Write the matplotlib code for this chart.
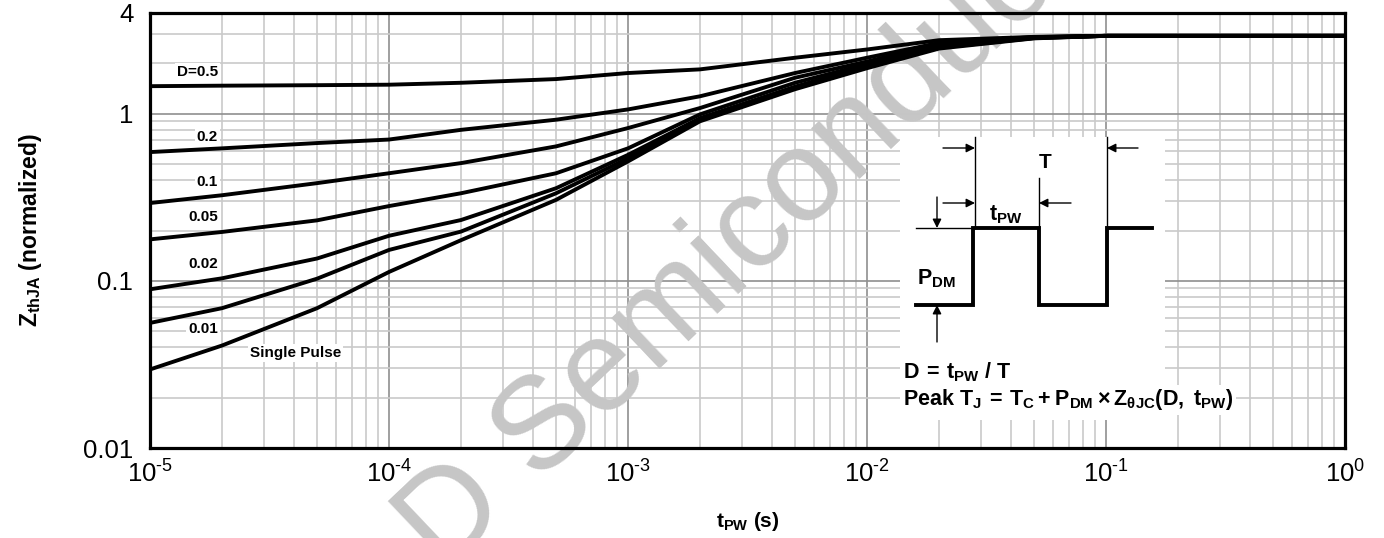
import numpy as np
import matplotlib
matplotlib.use("Agg")
import matplotlib.pyplot as plt
from matplotlib.patches import Rectangle

plt.rcParams['font.family'] = ['Liberation Sans', 'DejaVu Sans']
plt.rcParams['mathtext.fontset'] = 'custom'
plt.rcParams['mathtext.rm'] = 'Liberation Sans'
plt.rcParams['mathtext.bf'] = 'Liberation Sans:bold'
plt.rcParams['mathtext.it'] = 'Liberation Sans:italic'
plt.rcParams['axes.unicode_minus'] = False

# pulse width (s)
t_pw = [1e-5, 2e-5, 5e-5, 1e-4, 2e-4, 5e-4, 1e-3, 2e-3, 5e-3, 1e-2, 2e-2, 5e-2, 1e-1, 1.0]

# normalized transient thermal impedance
z_d50 = [1.46, 1.47, 1.48, 1.49, 1.53, 1.61, 1.75, 1.84, 2.16, 2.42, 2.75, 2.88, 2.92, 2.92]
z_d20 = [0.589, 0.62, 0.667, 0.70, 0.80, 0.92, 1.06, 1.27, 1.75, 2.16, 2.65, 2.87, 2.92, 2.92]
z_d10 = [0.292, 0.325, 0.384, 0.44, 0.506, 0.637, 0.82, 1.08, 1.64, 2.05, 2.60, 2.86, 2.92, 2.92]
z_d05 = [0.177, 0.196, 0.23, 0.28, 0.334, 0.44, 0.62, 0.99, 1.53, 1.98, 2.55, 2.85, 2.92, 2.92]
z_d02 = [0.089, 0.1035, 0.136, 0.186, 0.231, 0.358, 0.567, 0.94, 1.45, 1.93, 2.50, 2.84, 2.92, 2.92]
z_d01 = [0.056, 0.0686, 0.103, 0.153, 0.197, 0.334, 0.54, 0.92, 1.42, 1.90, 2.48, 2.83, 2.92, 2.92]
z_single = [0.0295, 0.041, 0.0686, 0.113, 0.175, 0.305, 0.518, 0.90, 1.40, 1.87, 2.45, 2.82, 2.92, 2.92]

curves = [z_d50, z_d20, z_d10, z_d05, z_d02, z_d01, z_single]
curve_labels = ['D=0.5', '0.2', '0.1', '0.05', '0.02', '0.01', 'Single Pulse']

x_ticks = [1e-5, 1e-4, 1e-3, 1e-2, 1e-1, 1.0]
x_tick_labels = [r'$\mathregular{10^{\text{-}5}}$', r'$\mathregular{10^{\text{-}4}}$',
                 r'$\mathregular{10^{\text{-}3}}$', r'$\mathregular{10^{\text{-}2}}$',
                 r'$\mathregular{10^{\text{-}1}}$', r'$\mathregular{10^{0}}$']
y_ticks = [0.01, 0.1, 1, 4]
y_tick_labels = ['0.01', '0.1', '1', '4']

W, H = 1384, 538
fig = plt.figure(figsize=(W / 100, H / 100), dpi=100)
L, R, T, B = 150, 1345, 13, 448
ax = fig.add_axes([L / W, 1 - B / H, (R - L) / W, (B - T) / H])


def axp(X, Y):
    # pixel position in the picture -> axes fraction
    return ((X - L) / (R - L), (B - Y) / (B - T))


for z in curves:
    ax.plot(t_pw, z, color='black', lw=2.8, solid_joinstyle='round', zorder=3)

ax.set_xscale('log')
ax.set_yscale('log')
ax.set_xlim(1e-5, 1)
ax.set_ylim(0.01, 4)
ax.set_xticks(x_ticks)
ax.set_xticklabels(x_tick_labels, fontsize=18.5)
ax.set_yticks(y_ticks)
ax.set_yticklabels(y_tick_labels, fontsize=18.5)
ax.yaxis.set_minor_locator(matplotlib.ticker.LogLocator(base=10, subs=np.arange(2, 10)))
ax.yaxis.set_minor_formatter(matplotlib.ticker.NullFormatter())
ax.xaxis.set_minor_locator(matplotlib.ticker.LogLocator(base=10, subs=np.arange(2, 10)))
ax.xaxis.set_minor_formatter(matplotlib.ticker.NullFormatter())
ax.tick_params(which='both', length=0)
ax.tick_params(axis='x', pad=9)
ax.tick_params(axis='y', pad=12)
ax.set_axisbelow(True)
ax.grid(which='major', color='#8f8f8f', lw=1.2)
ax.grid(which='minor', color='#cacaca', lw=1.2)
for s in ax.spines.values():
    s.set_linewidth(2.3)

ax.set_xlabel(r'$\mathbf{t_{PW}}$ (s)', fontsize=15, fontweight='bold', labelpad=16)
ax.set_ylabel(r'$\mathbf{Z_{thJA}}$ (normalized)', fontsize=16.5, fontweight='bold', labelpad=28)

# curve labels
label_pos = [(218, 72), (218, 137), (218, 182), (218, 217), (218, 264), (218, 329), (250, 353)]
for text, (X, Y) in zip(curve_labels, label_pos):
    ha = 'left' if text == 'Single Pulse' else 'right'
    ax.text(*axp(X, Y), text, transform=ax.transAxes, ha=ha, va='center', fontsize=11,
            fontweight='bold', zorder=4,
            bbox=dict(facecolor='white', edgecolor='none', pad=1.5))

# watermark
ax.text(783 / W, 1 - 205 / H, 'D Semiconductor', transform=fig.transFigure, rotation=43.5,
        rotation_mode='anchor', ha='center', va='center', fontsize=94, color='#c6c6c6',
        zorder=2.5, clip_on=False)

# inset: pulse train diagram
x0, y0 = axp(900, 420)
x1, y1 = axp(1165, 137)
ax.add_patch(Rectangle((x0, y0), x1 - x0, y1 - y0, transform=ax.transAxes,
                       facecolor='white', edgecolor='none', zorder=5))

pulse_x = [916, 973, 973, 1039, 1039, 1107, 1107, 1152]
pulse_y = [305, 305, 228, 228, 305, 305, 228, 228]
px, py = zip(*[axp(a, b) for a, b in zip(pulse_x, pulse_y)])
ax.plot(px, py, color='black', lw=2.8, transform=ax.transAxes, zorder=6,
        solid_joinstyle='miter')

thin = [((975, 137), (975, 228)), ((1039, 178), (1039, 228)), ((1107, 137), (1107, 228)),
        ((916, 228), (973, 228))]
for (a, b), (c, d) in thin:
    p, q = axp(a, b), axp(c, d)
    ax.plot([p[0], q[0]], [p[1], q[1]], color='black', lw=1.0, transform=ax.transAxes, zorder=6)

arrows = [((943, 148), (975, 148)), ((1138, 148), (1107, 148)),
          ((943, 203), (975, 203)), ((1071, 203), (1039, 203)),
          ((937, 197), (937, 228)), ((937, 342), (937, 305))]
for tail, tip in arrows:
    ax.annotate('', xy=axp(*tip), xytext=axp(*tail), xycoords='axes fraction',
                textcoords='axes fraction', zorder=7,
                arrowprops=dict(arrowstyle='-|>', color='black', lw=1.0,
                                mutation_scale=13, shrinkA=0, shrinkB=0))

ax.text(*axp(1045, 163), 'T', transform=ax.transAxes, ha='center', va='center',
        fontsize=15, fontweight='bold', zorder=7)
ax.text(*axp(1006, 215), r'$\mathbf{t_{PW}}$', transform=ax.transAxes, ha='center',
        va='center', fontsize=15.5, zorder=7)
ax.text(*axp(936, 279), r'$\mathbf{P_{DM}}$', transform=ax.transAxes, ha='center',
        va='center', fontsize=15.5, zorder=7)
ax.text(*axp(903, 372), r'$\mathbf{D\:=\:t_{PW}\ /\ T}$', transform=ax.transAxes,
        ha='left', va='center', fontsize=15.5, zorder=7)
ax.text(*axp(903, 400), r'$\mathbf{Peak\ T_J\:=\:T_C\:+\:P_{DM}\:\times\:Z_{θJC}(D,\ t_{PW})}$',
        transform=ax.transAxes, ha='left', va='center', fontsize=15.5, zorder=7,
        bbox=dict(facecolor='white', edgecolor='none', pad=2))

fig.savefig('out.png', dpi=100)
